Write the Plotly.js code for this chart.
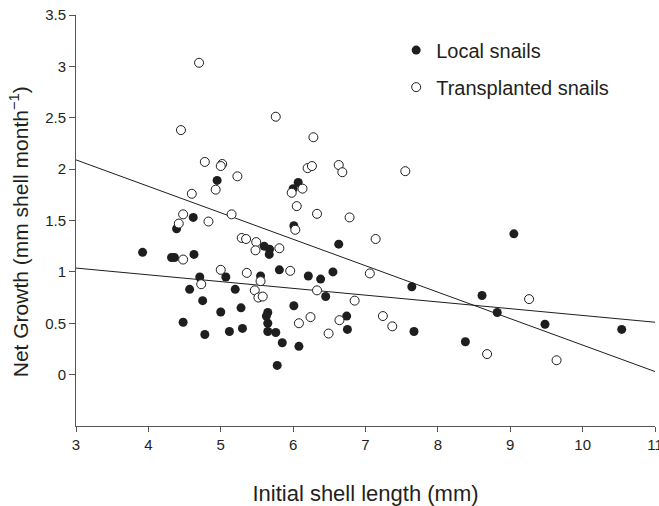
<!DOCTYPE html>
<html>
<head>
<meta charset="utf-8">
<script src="https://cdn.plot.ly/plotly-3.0.1.min.js"></script>
<style>html,body{margin:0;padding:0;background:#fff}#chart{width:659px;height:506px}</style>
</head>
<body>
<div id="chart"></div>
<script>
// Local snails (filled circles)
var localX = [4.95, 6.07, 6.00, 4.62, 4.39, 3.92, 4.32, 4.36, 4.63, 4.71, 5.07, 5.55, 4.57, 5.20, 4.75, 5.28, 5.00, 4.48, 4.78, 5.12,
              5.30, 6.01, 6.63, 5.60, 5.675, 5.67, 5.81, 6.21, 6.38, 6.55, 7.64, 6.45, 6.01, 5.65, 5.63, 5.65, 5.65, 5.76, 5.85, 6.08,
              5.78, 6.74, 6.75, 7.67, 9.05, 8.61, 8.82, 9.48, 10.54, 8.38];
var localY = [1.89, 1.87, 1.81, 1.53, 1.42, 1.19, 1.14, 1.14, 1.17, 0.95, 0.95, 0.96, 0.83, 0.83, 0.72, 0.65, 0.61, 0.51, 0.39, 0.42,
              0.45, 1.45, 1.27, 1.25, 1.22, 1.17, 1.02, 0.96, 0.93, 1.00, 0.855, 0.76, 0.67, 0.605, 0.57, 0.50, 0.42, 0.41, 0.31, 0.275,
              0.09, 0.57, 0.44, 0.42, 1.37, 0.77, 0.605, 0.49, 0.44, 0.32];
// Transplanted snails (open circles)
var transX = [4.70, 4.45, 4.78, 5.02, 5.00, 5.23, 4.93, 4.60, 5.76, 6.28, 6.20, 6.26, 6.63, 6.68, 7.55, 5.98, 6.13, 5.15, 4.48, 4.42,
              4.83, 5.29, 5.35, 5.49, 5.48, 4.48, 5.00, 5.36, 4.73, 5.47, 5.52, 6.05, 6.33, 6.78, 6.03, 7.14, 5.81, 5.96, 7.06, 5.55,
              5.58, 6.33, 6.85, 6.24, 6.08, 6.64, 6.49, 7.24, 7.37, 9.26, 8.68, 9.64];
var transY = [3.035, 2.38, 2.07, 2.05, 2.03, 1.93, 1.80, 1.76, 2.51, 2.31, 2.01, 2.03, 2.04, 1.97, 1.98, 1.77, 1.81, 1.56, 1.56, 1.47,
              1.49, 1.33, 1.32, 1.29, 1.21, 1.12, 1.02, 0.99, 0.88, 0.82, 0.75, 1.64, 1.565, 1.53, 1.41, 1.32, 1.23, 1.01, 0.985, 0.91,
              0.76, 0.82, 0.72, 0.56, 0.50, 0.53, 0.40, 0.57, 0.47, 0.735, 0.20, 0.14];
// Fitted lines (end points)
var fitX = [3, 11];
var localFitY = [1.037, 0.51];
var transFitY = [2.09, 0.03];
// Tick labels
var xTickVals = [3, 4, 5, 6, 7, 8, 9, 10, 11];
var xTickText = ['3', '4', '5', '6', '7', '8', '9', '10', '11'];
var yTickVals = [0, 0.5, 1, 1.5, 2, 2.5, 3, 3.5];
var yTickText = ['0', '0.5', '1', '1.5', '2', '2.5', '3', '3.5'];

var ink = '#1e1e1e';
var txt = '#231f20';
var axc = '#555555';

var traces = [
  {x: fitX, y: localFitY, mode: 'lines', line: {color: ink, width: 1}, showlegend: false, hoverinfo: 'skip'},
  {x: fitX, y: transFitY, mode: 'lines', line: {color: ink, width: 1}, showlegend: false, hoverinfo: 'skip'},
  {x: localX, y: localY, mode: 'markers', name: 'Local snails', legendgroup: 'a',
   marker: {symbol: 'circle', size: 9, color: ink, line: {width: 0}}},
  {x: transX, y: transY, mode: 'markers', name: 'Transplanted snails', legendgroup: 'b',
   marker: {symbol: 'circle', size: 9, color: '#ffffff', line: {color: ink, width: 1}}}
];

var layout = {
  width: 659, height: 506,
  margin: {l: 76, r: 4, t: 15, b: 80},
  paper_bgcolor: '#ffffff', plot_bgcolor: '#ffffff',
  font: {family: '"Liberation Sans", Arial, Helvetica, sans-serif', color: txt, size: 15},
  showlegend: true,
  legend: {x: 0.553, y: 0.962, xanchor: 'left', yanchor: 'top', bgcolor: 'rgba(0,0,0,0)',
           font: {size: 20, color: txt}, tracegroupgap: 8, traceorder: 'grouped', itemwidth: 30},
  xaxis: {
    range: [3, 11], showgrid: false, zeroline: false,
    showline: true, linecolor: axc, linewidth: 1,
    ticks: 'outside', ticklen: 5, tickcolor: axc, tickwidth: 1,
    tickmode: 'array', tickvals: xTickVals, ticktext: xTickText,
    ticklabeloverflow: 'allow',
    tickfont: {size: 15, color: txt},
    title: {text: 'Initial shell length (mm)', font: {size: 22, color: txt}, standoff: 33}
  },
  yaxis: {
    range: [-0.5, 3.5], showgrid: false, zeroline: false,
    showline: true, linecolor: axc, linewidth: 1,
    ticks: 'outside', ticklen: 6, tickcolor: axc, tickwidth: 1,
    tickmode: 'array', tickvals: yTickVals, ticktext: yTickText,
    tickfont: {size: 15, color: txt}
  },
  annotations: [{
    text: 'Net Growth (mm shell month<sup>−1</sup>)', textangle: -90,
    xref: 'paper', yref: 'paper', x: -0.098, y: 0.472, xanchor: 'center', yanchor: 'middle',
    showarrow: false, font: {size: 21, color: txt}
  }]
};

Plotly.newPlot('chart', traces, layout, {staticPlot: true, displayModeBar: false});
</script>
</body>
</html>
